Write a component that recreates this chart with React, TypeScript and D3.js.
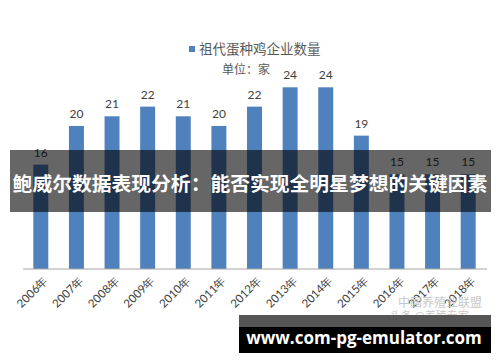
import React, { useEffect, useRef } from 'react';
import * as d3 from 'd3';

const years = ['2006年', '2007年', '2008年', '2009年', '2010年', '2011年', '2012年', '2013年', '2014年', '2015年', '2016年', '2017年', '2018年'];
const counts = [16, 20, 21, 22, 21, 20, 22, 24, 24, 19, 15, 15, 15];
const seriesName = '祖代蛋种鸡企业数量';
const unitLabel = '单位：家';
const bannerTitle = '鲍威尔数据表现分析：能否实现全明星梦想的关键因素';
const siteMark = 'www.com-pg-emulator.com';

export default function App() {
  const svgRef = useRef<SVGSVGElement>(null);

  useEffect(() => {
    if (!svgRef.current) return;
    const width = 500;
    const height = 362;
    const svg = d3.select(svgRef.current)
      .attr('viewBox', `0 0 ${width} ${height}`)
      .html('');

    svg.append('rect').attr('width', width).attr('height', height).attr('fill', '#fff');

    const x = d3.scaleBand<string>()
      .domain(years)
      .range([23, 486])
      .paddingInner(0.58)
      .paddingOuter(0.29);

    const y = d3.scaleLinear()
      .domain([5.2, 24])
      .range([269, 87.3]);

    const numFont = 'Lato, "Open Sans", sans-serif';
    const cjkFont = '"Noto Sans CJK SC", sans-serif';

    // bars
    svg.selectAll('.bar')
      .data(counts)
      .enter()
      .append('rect')
      .attr('class', 'bar')
      .attr('x', (_, i) => x(years[i])!)
      .attr('width', x.bandwidth())
      .attr('y', d => y(d))
      .attr('height', d => y(5.2) - y(d))
      .attr('fill', '#4f81bd');

    // value labels
    svg.selectAll('.val')
      .data(counts)
      .enter()
      .append('text')
      .attr('class', 'val')
      .attr('x', (_, i) => x(years[i])! + x.bandwidth() / 2)
      .attr('y', d => y(d) - 8)
      .attr('text-anchor', 'middle')
      .attr('font-family', numFont)
      .attr('font-size', 12)
      .attr('fill', '#404040')
      .text(d => d);

    // axis line
    svg.append('line')
      .attr('x1', 23).attr('x2', 487)
      .attr('y1', y(5.2)).attr('y2', y(5.2))
      .attr('stroke', '#a6a6a6')
      .attr('stroke-width', 1);

    // x labels
    svg.selectAll('.xl')
      .data(years)
      .enter()
      .append('text')
      .attr('class', 'xl')
      .attr('transform', d => `translate(${x(d)! + x.bandwidth() / 2 + 6}, ${y(5.2) + 10}) rotate(-45)`)
      .attr('text-anchor', 'end')
      .attr('dominant-baseline', 'middle')
      .attr('font-family', numFont)
      .attr('font-size', 11.5)
      .attr('fill', '#404040')
      .text(d => d);

    // legend
    svg.append('rect')
      .attr('x', 189).attr('y', 46)
      .attr('width', 6).attr('height', 6)
      .attr('fill', '#4f81bd');
    svg.append('text')
      .attr('x', 199).attr('y', 54)
      .attr('font-family', cjkFont)
      .attr('font-size', 13.5)
      .attr('fill', '#595959')
      .text(seriesName);
    svg.append('text')
      .attr('x', 222).attr('y', 74)
      .attr('font-family', cjkFont)
      .attr('font-size', 12)
      .attr('fill', '#595959')
      .text(unitLabel);

    // faint source watermark
    svg.append('text')
      .attr('x', 398).attr('y', 307)
      .attr('font-family', cjkFont)
      .attr('font-size', 12)
      .attr('fill', '#c8c8c8')
      .text('中国养殖业联盟');
    svg.append('text')
      .attr('x', 390).attr('y', 320)
      .attr('font-family', cjkFont)
      .attr('font-size', 11)
      .attr('fill', '#c8c8c8')
      .text('头条 @养殖专家');

    // banner overlay
    svg.append('rect')
      .attr('x', 10).attr('y', 150)
      .attr('width', 481).attr('height', 62)
      .attr('fill', 'rgba(0,0,0,0.6)');
    svg.append('text')
      .attr('x', 250).attr('y', 182)
      .attr('text-anchor', 'middle')
      .attr('dominant-baseline', 'central')
      .attr('font-family', cjkFont)
      .attr('font-weight', 'bold')
      .attr('font-size', 19.8)
      .attr('fill', '#fff')
      .text(bannerTitle);

    // site mark box
    svg.append('rect')
      .attr('x', 239).attr('y', 315)
      .attr('width', 252).attr('height', 12)
      .attr('fill', '#555');
    svg.append('rect')
      .attr('x', 239).attr('y', 327)
      .attr('width', 252).attr('height', 26)
      .attr('fill', '#000');
    svg.append('text')
      .attr('x', 364).attr('y', 337)
      .attr('text-anchor', 'middle')
      .attr('dominant-baseline', 'central')
      .attr('font-family', '"Open Sans", "DejaVu Sans", sans-serif')
      .attr('font-weight', 'bold')
      .attr('font-size', 17)
      .attr('fill', '#fff')
      .text(siteMark);
  }, []);

  return (
    <div style={{ position: 'fixed', left: 0, top: 0, width: 500, height: 362 }}>
      <svg ref={svgRef} width={500} height={362} style={{ display: 'block' }} />
    </div>
  );
}
